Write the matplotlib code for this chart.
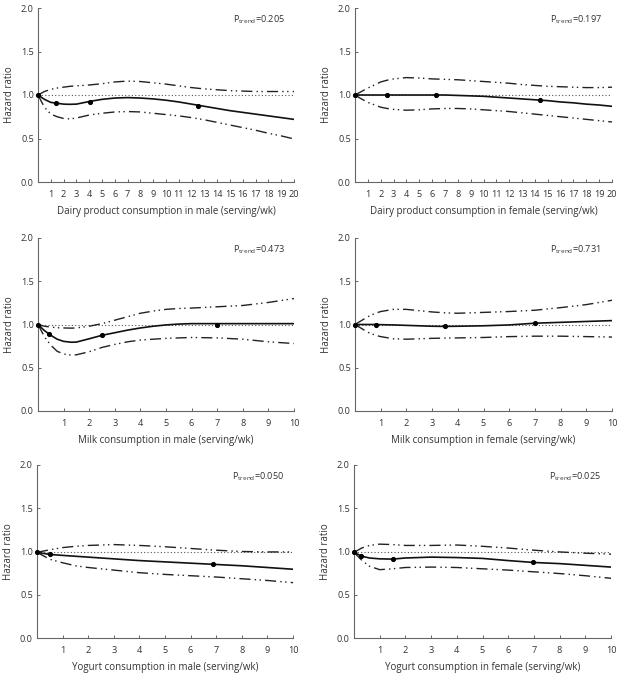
import matplotlib
matplotlib.use("Agg")
import matplotlib.pyplot as plt

plt.rcParams['font.family'] = ['Open Sans', 'DejaVu Sans']
plt.rcParams['mathtext.fontset'] = 'custom'
plt.rcParams['mathtext.rm'] = 'Open Sans'
plt.rcParams['mathtext.it'] = 'Open Sans'

W, H = 619, 684

# ---- data ----
# Dairy, male
dm_x = [0, 0.5, 1, 1.5, 2, 2.5, 3, 4, 5, 6, 7, 8, 9, 10, 11, 12, 13, 14, 15, 16, 17, 18, 19, 20]
dm_hr = [1.0, 0.95, 0.915, 0.905, 0.895, 0.893, 0.895, 0.925, 0.95, 0.965, 0.97, 0.965, 0.955, 0.94,
         0.92, 0.895, 0.87, 0.845, 0.82, 0.80, 0.78, 0.76, 0.74, 0.72]
dm_up = [1.0, 1.04, 1.065, 1.08, 1.09, 1.10, 1.105, 1.115, 1.13, 1.15, 1.16, 1.155, 1.14, 1.125,
         1.105, 1.085, 1.07, 1.06, 1.05, 1.045, 1.04, 1.04, 1.04, 1.04]
dm_lo = [1.0, 0.86, 0.78, 0.75, 0.73, 0.725, 0.735, 0.77, 0.79, 0.805, 0.81, 0.805, 0.79, 0.775,
         0.76, 0.74, 0.715, 0.685, 0.655, 0.625, 0.595, 0.56, 0.53, 0.495]
dm_kx = [0, 1.4, 4.1, 12.5]
dm_ky = [1.0, 0.908, 0.925, 0.877]

# Dairy, female
df_x = [0, 0.5, 1, 2, 2.5, 3, 4, 5, 6, 7, 8, 9, 10, 11, 12, 13, 14, 15, 16, 17, 18, 19, 20]
df_hr = [1.0, 1.0, 1.0, 1.0, 1.0, 1.0, 1.0, 1.0, 1.0, 1.0, 0.995, 0.99, 0.985, 0.975, 0.965, 0.955,
         0.945, 0.935, 0.92, 0.91, 0.895, 0.885, 0.87]
df_up = [1.0, 1.04, 1.08, 1.15, 1.17, 1.185, 1.2, 1.195, 1.185, 1.18, 1.175, 1.165, 1.155, 1.145,
         1.135, 1.12, 1.11, 1.10, 1.095, 1.09, 1.085, 1.085, 1.09]
df_lo = [1.0, 0.955, 0.915, 0.86, 0.845, 0.835, 0.825, 0.83, 0.84, 0.845, 0.845, 0.84, 0.83, 0.82,
         0.81, 0.795, 0.78, 0.765, 0.75, 0.735, 0.72, 0.705, 0.69]
df_kx = [0, 2.5, 6.3, 14.4]
df_ky = [1.0, 1.0, 1.0, 0.94]

# Milk, male
mm_x = [0, 0.25, 0.5, 0.75, 1, 1.3, 1.5, 2, 2.5, 3, 3.5, 4, 4.5, 5, 5.5, 6, 7, 8, 9, 10]
mm_hr = [1.0, 0.93, 0.875, 0.83, 0.805, 0.795, 0.797, 0.835, 0.875, 0.905, 0.935, 0.96, 0.98,
         0.995, 1.005, 1.01, 1.01, 1.01, 1.01, 1.01]
mm_up = [1.0, 0.98, 0.97, 0.963, 0.96, 0.958, 0.96, 0.98, 1.01, 1.05, 1.09, 1.13, 1.155, 1.175,
         1.185, 1.19, 1.205, 1.22, 1.255, 1.30]
mm_lo = [1.0, 0.86, 0.76, 0.69, 0.66, 0.645, 0.65, 0.685, 0.735, 0.77, 0.80, 0.82, 0.83, 0.84,
         0.845, 0.85, 0.845, 0.83, 0.80, 0.78]
mm_kx = [0, 0.42, 2.5, 7.0]
mm_ky = [1.0, 0.886, 0.875, 1.0]

# Milk, female
mf_x = [0, 0.5, 0.8, 1, 1.5, 2, 2.5, 3, 3.5, 4, 5, 6, 7, 8, 9, 10]
mf_hr = [1.0, 1.0, 1.0, 0.998, 0.995, 0.99, 0.985, 0.98, 0.978, 0.98, 0.985, 0.995, 1.015, 1.025,
         1.035, 1.045]
mf_up = [1.0, 1.09, 1.13, 1.15, 1.175, 1.175, 1.16, 1.145, 1.135, 1.13, 1.14, 1.15, 1.165, 1.195,
         1.23, 1.28]
mf_lo = [1.0, 0.91, 0.875, 0.86, 0.835, 0.83, 0.835, 0.84, 0.843, 0.845, 0.85, 0.86, 0.865, 0.865,
         0.86, 0.855]
mf_kx = [0, 0.8, 3.5, 7.0]
mf_ky = [1.0, 1.0, 0.978, 1.017]

# Yogurt, male
ym_x = [0, 0.5, 1, 1.5, 2, 3, 4, 5, 6, 7, 8, 9, 10]
ym_hr = [0.99, 0.966, 0.955, 0.945, 0.935, 0.915, 0.895, 0.88, 0.865, 0.85, 0.835, 0.815, 0.795]
ym_up = [0.99, 1.02, 1.045, 1.06, 1.07, 1.08, 1.07, 1.055, 1.035, 1.015, 1.0, 0.995, 0.995]
ym_lo = [0.99, 0.91, 0.87, 0.835, 0.815, 0.785, 0.755, 0.735, 0.72, 0.705, 0.685, 0.665, 0.64]
ym_kx = [0, 0.52, 6.87]
ym_ky = [0.99, 0.966, 0.852]

# Yogurt, female
yf_x = [0, 0.3, 0.6, 1, 1.5, 2, 3, 4, 5, 6, 7, 8, 9, 10]
yf_hr = [0.99, 0.946, 0.925, 0.915, 0.912, 0.925, 0.935, 0.93, 0.92, 0.895, 0.873, 0.86, 0.84, 0.82]
yf_up = [0.99, 1.04, 1.07, 1.085, 1.08, 1.07, 1.07, 1.075, 1.06, 1.04, 1.015, 0.995, 0.98, 0.97]
yf_lo = [0.99, 0.9, 0.83, 0.79, 0.8, 0.815, 0.82, 0.815, 0.8, 0.785, 0.765, 0.745, 0.72, 0.69]
yf_kx = [0, 0.29, 1.5, 6.95]
yf_ky = [0.99, 0.946, 0.912, 0.873]

panels = [
    # (left, right, top, bottom) in pixels, xmax, label, p, data
    ((38, 294, 8, 182), 20, "Dairy product consumption in male (serving/wk)", "0.205",
     (dm_x, dm_hr, dm_up, dm_lo, dm_kx, dm_ky)),
    ((355, 612, 8, 182), 20, "Dairy product consumption in female (serving/wk)", "0.197",
     (df_x, df_hr, df_up, df_lo, df_kx, df_ky)),
    ((38, 294, 238, 411), 10, "Milk consumption in male (serving/wk)", "0.473",
     (mm_x, mm_hr, mm_up, mm_lo, mm_kx, mm_ky)),
    ((355, 612, 238, 411), 10, "Milk consumption in female (serving/wk)", "0.731",
     (mf_x, mf_hr, mf_up, mf_lo, mf_kx, mf_ky)),
    ((37, 293, 465, 638), 10, "Yogurt consumption in male (serving/wk)", "0.050",
     (ym_x, ym_hr, ym_up, ym_lo, ym_kx, ym_ky)),
    ((354, 611, 465, 638), 10, "Yogurt consumption in female (serving/wk)", "0.025",
     (yf_x, yf_hr, yf_up, yf_lo, yf_kx, yf_ky)),
]

ci_style = (0, (8, 3, 1, 2.5, 1, 3))
txt_col = '#333333'

fig = plt.figure(figsize=(W / 100, H / 100), dpi=100)

for (l, r, t, b), xmax, label, p, (x, hr, up, lo, kx, ky) in panels:
    ax = fig.add_axes([l / W, 1 - b / H, (r - l) / W, (b - t) / H])
    ax.axhline(1.0, color='#555555', lw=0.8, ls=(0, (1, 2)), zorder=1)
    ax.plot(x, up, color='#222222', lw=1.0, ls=ci_style)
    ax.plot(x, lo, color='#222222', lw=1.0, ls=ci_style)
    ax.plot(x, hr, color='#111111', lw=1.2)
    ax.plot(kx, ky, 'o', color='black', ms=2.7, zorder=5, clip_on=False)

    ax.set_xlim(0, xmax)
    ax.set_ylim(0, 2.0)
    ax.set_xticks(range(1, xmax + 1))
    ax.set_yticks([0, 0.5, 1.0, 1.5, 2.0])
    ax.set_yticklabels(["0.0", "0.5", "1.0", "1.5", "2.0"])
    ax.tick_params(axis='both', direction='in', length=2.5, width=0.7, color='#666666',
                   labelsize=6.6, labelcolor=txt_col)
    ax.tick_params(axis='x', pad=6)
    ax.tick_params(axis='y', pad=3)
    for s in ['top', 'right']:
        ax.spines[s].set_visible(False)
    for s in ['left', 'bottom']:
        ax.spines[s].set_color('#666666')
        ax.spines[s].set_linewidth(0.8)

    ax.set_xlabel(label, fontsize=7.0, color=txt_col, labelpad=5)
    ax.set_ylabel("Hazard ratio", fontsize=7.0, color=txt_col, labelpad=4)
    ax.text(0.76, 0.93, r'P$_{\mathrm{trend}}$=' + p, transform=ax.transAxes,
            fontsize=6.6, color=txt_col, ha='left', va='center')

fig.savefig("out.png", dpi=100)
